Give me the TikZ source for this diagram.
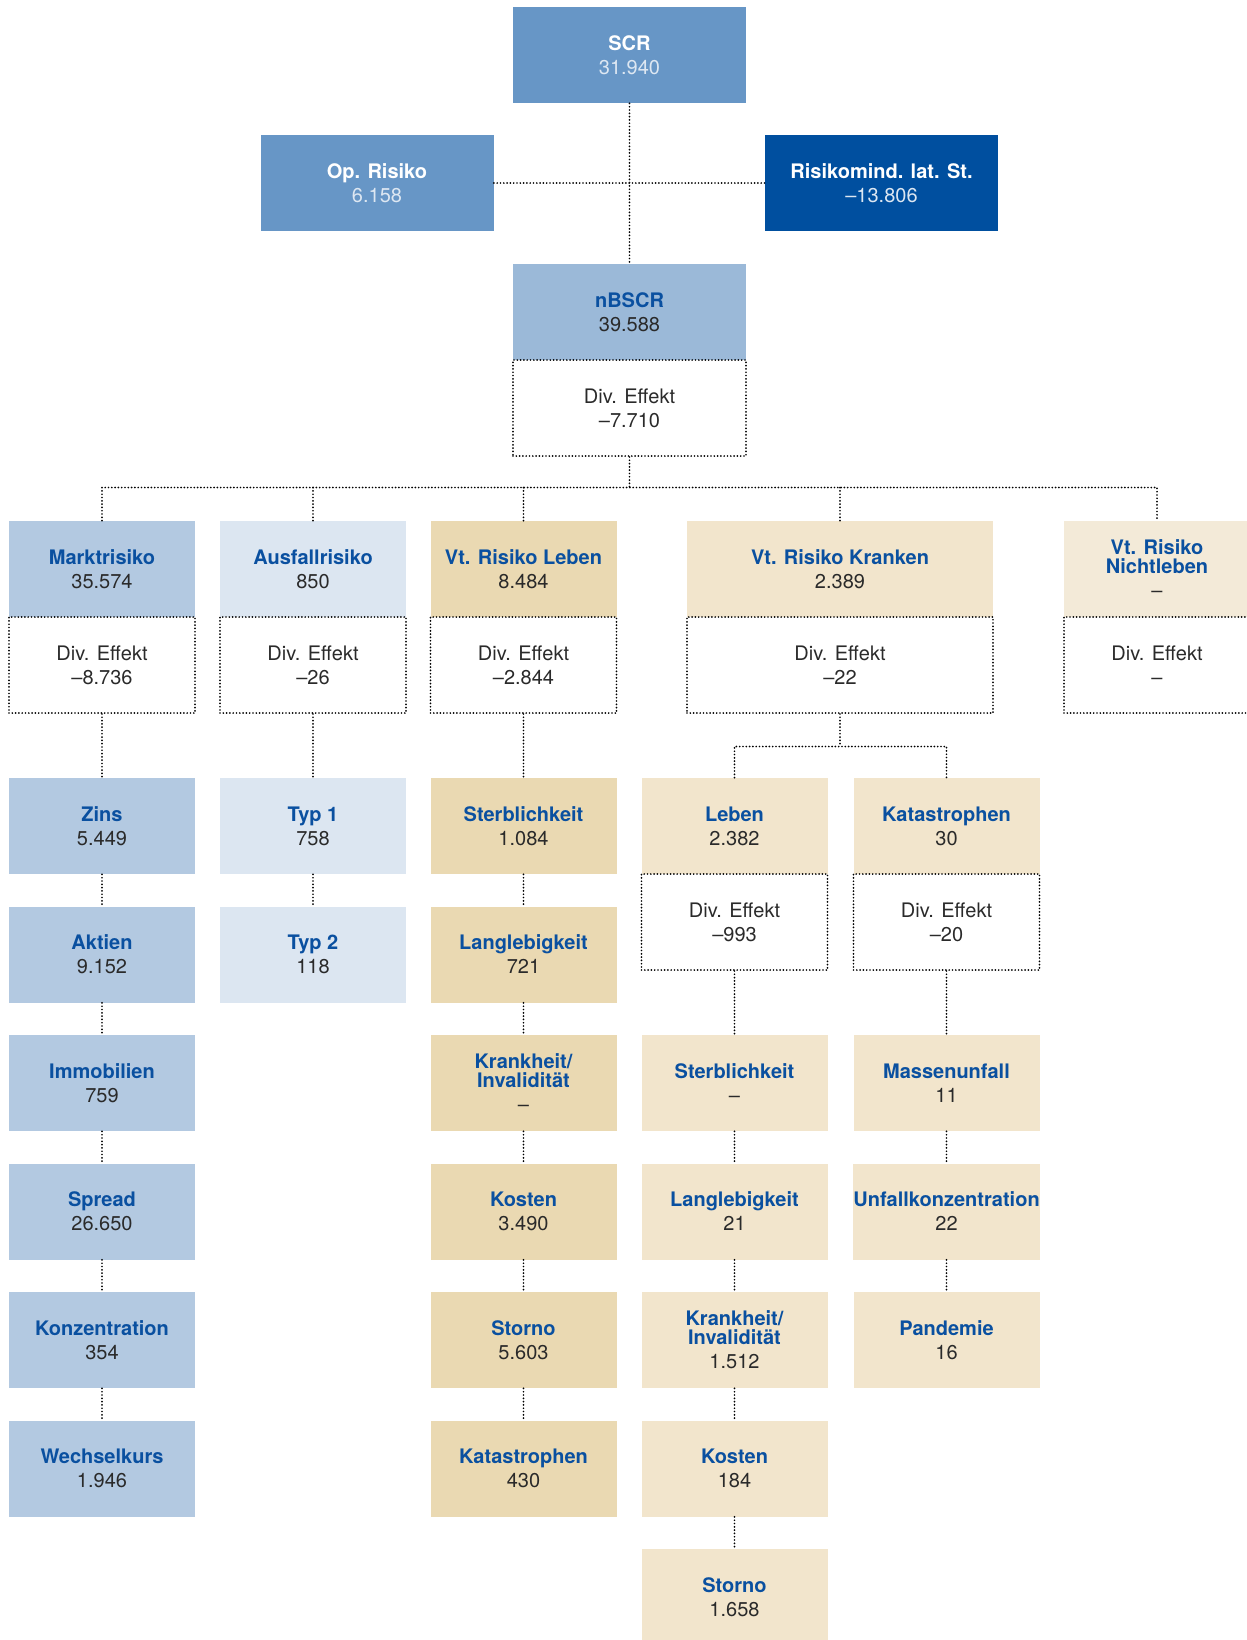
\documentclass[tikz,border=0pt]{standalone}
\usepackage{fontspec}
\setmainfont{TeX Gyre Heros}
\usepackage{xcolor}
\usepackage{tikz}
\usetikzlibrary{positioning}

\definecolor{scrblue}{HTML}{6796C6}
\definecolor{deepblue}{HTML}{004F9F}
\definecolor{nbscrblue}{HTML}{9BB9D8}
\definecolor{marktblue}{HTML}{B3C9E1}
\definecolor{ausfallblue}{HTML}{DCE6F1}
\definecolor{lebenbeige}{HTML}{EAD9B2}
\definecolor{krankbeige}{HTML}{F2E5CC}
\definecolor{nlbeige}{HTML}{F3EAD8}
\definecolor{ttlblue}{HTML}{0A50A0}
\definecolor{valgray}{HTML}{2A2A2A}
\definecolor{lighttxt}{HTML}{DDE7F2}

\newcommand{\ttl}[1]{{\bfseries\color{ttlblue}#1}}
\newcommand{\wttl}[1]{{\bfseries\color{white}#1}}
\newcommand{\dv}[1]{Div. Effekt\\#1}

\begin{document}
\begin{tikzpicture}[x=0.5pt,y=-0.5pt,
    riskbox/.style={rectangle, minimum width=93pt, minimum height=48pt, inner sep=0pt,
      align=center, text=valgray, font=\fontsize{10}{12}\selectfont},
    dotline/.style={line width=0.95pt, line cap=round, dash pattern=on 0pt off 1.65pt},
    divbox/.style={riskbox, draw=black, dotline}]
  \useasboundingbox (0,0) rectangle (1247,1640);
  % SCR and top level
  \node[riskbox, minimum width=116.5pt, fill=scrblue, text=lighttxt] (scr) at (629.5,55) {\wttl{SCR}\\31.940};
  \node[riskbox, minimum width=116.5pt, fill=scrblue, text=lighttxt] (oprisk) at (377,183) {\wttl{Op. Risiko}\\6.158};
  \node[riskbox, minimum width=116.5pt, fill=deepblue, text=lighttxt] (latst) at (881.5,183) {\wttl{Risikomind. lat. St.}\\--13.806};
  \node[riskbox, minimum width=116.5pt, fill=nbscrblue] (nbscr) at (629.5,312) {\ttl{nBSCR}\\39.588};
  \node[divbox, minimum width=116.5pt] (nbscrdiv) at (629.5,408) {\dv{--7.710}};
  \draw[dotline] (scr) -- (nbscr);
  \draw[dotline] (oprisk) -- (latst);
  % modules
  \node[riskbox, fill=marktblue] (markt) at (102,569) {\ttl{Marktrisiko}\\35.574};
  \node[divbox] (marktdiv) at (102,665) {\dv{--8.736}};
  \node[riskbox, fill=ausfallblue] (ausfall) at (313,569) {\ttl{Ausfallrisiko}\\850};
  \node[divbox] (ausfalldiv) at (313,665) {\dv{--26}};
  \node[riskbox, fill=lebenbeige] (vtleben) at (523.5,569) {\ttl{Vt. Risiko Leben}\\8.484};
  \node[divbox] (vtlebendiv) at (523.5,665) {\dv{--2.844}};
  \node[riskbox, minimum width=153pt, fill=krankbeige] (vtkranken) at (840,569) {\ttl{Vt. Risiko Kranken}\\2.389};
  \node[divbox, minimum width=153pt] (vtkrankendiv) at (840,665) {\dv{--22}};
  \node[riskbox, fill=nlbeige] (nleben) at (1157,569) {\ttl{Vt. Risiko}\\[-2.5pt]\ttl{Nichtleben}\\--};
  \node[divbox] (nlebendiv) at (1157,665) {\dv{--}};
  \coordinate (bus) at (629.5,487.5);
  \draw[dotline] (nbscrdiv) -- (bus);
  \draw[dotline] (markt) |- (bus) -| (nleben);
  \draw[dotline] (ausfall) -- (ausfall |- bus);
  \draw[dotline] (vtleben) -- (vtleben |- bus);
  \draw[dotline] (vtkranken) -- (vtkranken |- bus);
  % Marktrisiko
  \node[riskbox, fill=marktblue] (zins) at (102,826) {\ttl{Zins}\\5.449};
  \node[riskbox, fill=marktblue] (aktien) at (102,954.5) {\ttl{Aktien}\\9.152};
  \node[riskbox, fill=marktblue] (immo) at (102,1083) {\ttl{Immobilien}\\759};
  \node[riskbox, fill=marktblue] (spread) at (102,1211.5) {\ttl{Spread}\\26.650};
  \node[riskbox, fill=marktblue] (konz) at (102,1340) {\ttl{Konzentration}\\354};
  \node[riskbox, fill=marktblue] (wkurs) at (102,1468.5) {\ttl{Wechselkurs}\\1.946};
  % Ausfallrisiko
  \node[riskbox, fill=ausfallblue] (typ1) at (313,826) {\ttl{Typ 1}\\758};
  \node[riskbox, fill=ausfallblue] (typ2) at (313,954.5) {\ttl{Typ 2}\\118};
  % Vt. Risiko Leben
  \node[riskbox, fill=lebenbeige] (lsterb) at (523.5,826) {\ttl{Sterblichkeit}\\1.084};
  \node[riskbox, fill=lebenbeige] (llang) at (523.5,954.5) {\ttl{Langlebigkeit}\\721};
  \node[riskbox, fill=lebenbeige] (linval) at (523.5,1083) {\ttl{Krankheit/}\\[-2.5pt]\ttl{Invalidität}\\--};
  \node[riskbox, fill=lebenbeige] (lkost) at (523.5,1211.5) {\ttl{Kosten}\\3.490};
  \node[riskbox, fill=lebenbeige] (lstorno) at (523.5,1340) {\ttl{Storno}\\5.603};
  \node[riskbox, fill=lebenbeige] (lkat) at (523.5,1468.5) {\ttl{Katastrophen}\\430};
  % Vt. Risiko Kranken
  \node[riskbox, fill=krankbeige] (kleben) at (734.5,826) {\ttl{Leben}\\2.382};
  \node[divbox] (klebendiv) at (734.5,922) {\dv{--993}};
  \node[riskbox, fill=krankbeige] (kkat) at (946.5,826) {\ttl{Katastrophen}\\30};
  \node[divbox] (kkatdiv) at (946.5,922) {\dv{--20}};
  \coordinate (kbus) at (840,746.5);
  \draw[dotline] (vtkrankendiv) -- (kbus);
  \draw[dotline] (kleben) |- (kbus) -| (kkat);
  \node[riskbox, fill=krankbeige] (ksterb) at (734.5,1083) {\ttl{Sterblichkeit}\\--};
  \node[riskbox, fill=krankbeige] (klang) at (734.5,1211.5) {\ttl{Langlebigkeit}\\21};
  \node[riskbox, fill=krankbeige] (kinval) at (734.5,1340) {\ttl{Krankheit/}\\[-2.5pt]\ttl{Invalidität}\\1.512};
  \node[riskbox, fill=krankbeige] (kkost) at (734.5,1468.5) {\ttl{Kosten}\\184};
  \node[riskbox, fill=krankbeige] (kstorno) at (734.5,1597) {\ttl{Storno}\\1.658};
  \node[riskbox, fill=krankbeige] (kmasse) at (946.5,1083) {\ttl{Massenunfall}\\11};
  \node[riskbox, fill=krankbeige] (kunfall) at (946.5,1211.5) {\ttl{Unfallkonzentration}\\22};
  \node[riskbox, fill=krankbeige] (kpand) at (946.5,1340) {\ttl{Pandemie}\\16};
  % column links
  \foreach \a/\b in {marktdiv/zins, zins/aktien, aktien/immo, immo/spread, spread/konz, konz/wkurs,
      ausfalldiv/typ1, typ1/typ2,
      vtlebendiv/lsterb, lsterb/llang, llang/linval, linval/lkost, lkost/lstorno, lstorno/lkat,
      klebendiv/ksterb, ksterb/klang, klang/kinval, kinval/kkost, kkost/kstorno,
      kkatdiv/kmasse, kmasse/kunfall, kunfall/kpand}
    \draw[dotline] (\a) -- (\b);
\end{tikzpicture}
\end{document}
